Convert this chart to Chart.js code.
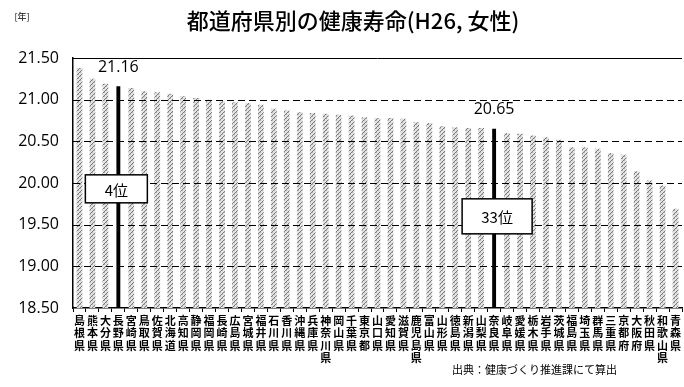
<!DOCTYPE html>
<html lang="ja">
<head>
<meta charset="utf-8">
<script src="https://cdn.jsdelivr.net/npm/chart.js@4/dist/chart.umd.min.js"></script>
<style>
  html, body { margin: 0; padding: 0; background: #fff; }
  #wrap { width: 684px; height: 387px; position: relative; }
</style>
</head>
<body>
<div id="wrap"><canvas id="c" width="684" height="387"></canvas></div>
<script>
// 都道府県別 健康寿命（H26・女性）— 高い順
const prefectures = [
  '島根県','熊本県','大分県','長野県','宮崎県','鳥取県','佐賀県','北海道','高知県','静岡県',
  '福岡県','長崎県','広島県','宮城県','福井県','石川県','香川県','沖縄県','兵庫県','神奈川県',
  '岡山県','千葉県','東京都','山口県','愛知県','滋賀県','鹿児島県','富山県','山形県','徳島県',
  '新潟県','山梨県','奈良県','岐阜県','愛媛県','栃木県','岩手県','茨城県','福島県','埼玉県',
  '群馬県','三重県','京都府','大阪府','秋田県','和歌山県','青森県'
];
const healthyYears = [
  21.38, 21.25, 21.19, 21.16, 21.14, 21.10, 21.09, 21.07, 21.04, 21.02,
  21.00, 20.98, 20.97, 20.96, 20.94, 20.89, 20.87, 20.85, 20.84, 20.83,
  20.82, 20.81, 20.79, 20.78, 20.78, 20.77, 20.73, 20.72, 20.68, 20.67,
  20.66, 20.66, 20.65, 20.60, 20.59, 20.57, 20.55, 20.52, 20.43, 20.43,
  20.41, 20.36, 20.34, 20.14, 20.03, 19.97, 19.69
];
const highlighted = ['長野県', '奈良県'];
const yMin = 18.5, yMax = 21.5, yStep = 0.5;

const titleText = '都道府県別の健康寿命(H26, 女性)';
const unitText = '[年]';
const sourceText = '出典：健康づくり推進課にて算出';

// light grey dotted hatch used for the ordinary bars
function makeHatch() {
  const c = document.createElement('canvas');
  c.width = 4; c.height = 4;
  const g = c.getContext('2d');
  g.fillStyle = '#e4e4e4';
  g.fillRect(0, 0, 4, 4);
  g.fillStyle = '#7a7a7a';
  for (let i = 0; i < 4; i++) g.fillRect(i, 3 - i, 1, 1);
  g.fillStyle = '#b4b4b4';
  g.fillRect(0, 0, 1, 1);
  g.fillRect(2, 2, 1, 1);
  return g.createPattern(c, 'repeat');
}

const isHi = prefectures.map(p => highlighted.includes(p));
const normalData = healthyYears.map((v, i) => isHi[i] ? null : v);
const hiData = healthyYears.map((v, i) => isHi[i] ? v : null);

const JP = "'Noto Sans CJK JP', 'Noto Sans', sans-serif";
const NUM = "'Open Sans', 'Liberation Sans', sans-serif";

// dashed horizontal grid at every y tick (the top one is the solid frame)
const dashedGridPlugin = {
  id: 'dashedGrid',
  afterDatasetsDraw(chart) {
    const { ctx, chartArea: a, scales: { y } } = chart;
    ctx.save();
    ctx.strokeStyle = '#000';
    ctx.lineWidth = 1;
    y.ticks.forEach(t => {
      const py = Math.round(y.getPixelForValue(t.value)) + 0.5;
      if (t.value === yMin) return;
      ctx.setLineDash(t.value === yMax ? [] : [7, 4]);
      ctx.beginPath();
      ctx.moveTo(a.left, py);
      ctx.lineTo(a.right, py);
      ctx.stroke();
    });
    ctx.restore();
  }
};

// rank boxes and value labels for the highlighted prefectures
const calloutPlugin = {
  id: 'callouts',
  afterDatasetsDraw(chart, args, opts) {
    const { ctx, scales: { x, y } } = chart;
    ctx.save();
    highlighted.forEach((name, k) => {
      const idx = prefectures.indexOf(name);
      const v = healthyYears[idx];
      const px = x.getPixelForValue(idx);
      const top = y.getPixelForValue(v);
      // value above the bar
      ctx.fillStyle = '#000';
      ctx.font = `16px ${NUM}`;
      ctx.textAlign = 'center';
      ctx.textBaseline = 'middle';
      ctx.fillText(v.toFixed(2), px, top - 19);
      // rank box
      const b = opts.boxes[k];
      const cy = y.getPixelForValue(b.at);
      const bx = px - b.w / 2 + (b.dx || 0), by = cy - b.h / 2;
      ctx.fillStyle = '#fff';
      ctx.fillRect(bx, by, b.w, b.h);
      ctx.strokeStyle = '#000';
      ctx.lineWidth = 1.5;
      ctx.strokeRect(bx, by, b.w, b.h);
      ctx.fillStyle = '#000';
      ctx.font = `15px ${JP}`;
      ctx.fillText((idx + 1) + '位', bx + b.w / 2, cy + 1);
    });
    ctx.restore();
  },
  afterDraw(chart) {
    const { ctx } = chart;
    ctx.save();
    ctx.fillStyle = '#000';
    ctx.textBaseline = 'middle';
    ctx.textAlign = 'center';
    ctx.font = `500 22px ${JP}`;
    ctx.fillText(titleText, 353, 21);
    ctx.font = `9px ${JP}`;
    ctx.fillText(unitText, 22, 17);
    ctx.textAlign = 'left';
    ctx.font = `11px ${JP}`;
    ctx.fillText(sourceText, 452, 370);
    ctx.restore();
  }
};

new Chart(document.getElementById('c'), {
  type: 'bar',
  data: {
    labels: prefectures.map(p => p.split('')),
    datasets: [
      {
        data: normalData,
        backgroundColor: makeHatch(),
        borderWidth: 0,
        barPercentage: 0.44,
        categoryPercentage: 1,
        grouped: false
      },
      {
        data: hiData,
        backgroundColor: '#000',
        borderWidth: 0,
        barPercentage: 0.3,
        categoryPercentage: 1,
        grouped: false
      }
    ]
  },
  options: {
    responsive: false,
    animation: false,
    layout: { padding: { top: 58, right: 2, left: 0, bottom: 0 } },
    plugins: {
      legend: { display: false },
      tooltip: { enabled: false },
      title: { display: false },
      callouts: {
        boxes: [
          { at: 19.93, w: 62, h: 28, dx: -2 },
          { at: 19.60, w: 70, h: 35, dx: 3 }
        ]
      }
    },
    scales: {
      x: {
        offset: true,
        grid: {
          display: true,
          offset: true,
          drawOnChartArea: false,
          drawTicks: true,
          tickLength: 4,
          color: '#000'
        },
        border: { display: true, color: '#000', width: 1.5 },
        ticks: {
          autoSkip: false,
          maxRotation: 0,
          minRotation: 0,
          padding: 2,
          color: '#000',
          font: { family: JP, size: 11, weight: 'bold', lineHeight: 1.15 }
        },
        afterFit(scale) { scale.height = 79; }
      },
      y: {
        min: yMin,
        max: yMax,
        grid: { display: false, drawTicks: false },
        border: { display: true, color: '#000', width: 1.5 },
        ticks: {
          stepSize: yStep,
          padding: 14,
          color: '#000',
          font: { family: NUM, size: 16 },
          callback: v => Number(v).toFixed(2)
        },
        afterFit(scale) { scale.width = 73; }
      }
    }
  },
  plugins: [dashedGridPlugin, calloutPlugin]
});
</script>
</body>
</html>
